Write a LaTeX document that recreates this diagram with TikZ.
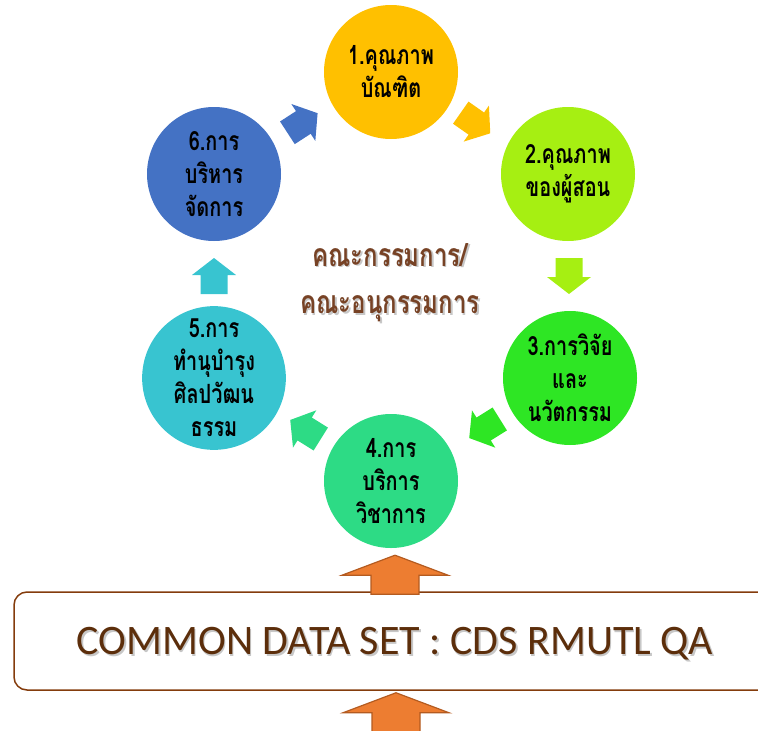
\documentclass[tikz,border=0pt]{standalone}
\usepackage{fontspec}
\setmainfont{Carlito}
\newfontfamily\thaifont[Script=Thai,FakeStretch=0.75]{Loma}
\usetikzlibrary{calc}
\definecolor{c1}{HTML}{FFC000}
\definecolor{c2}{HTML}{A6EF12}
\definecolor{c3}{HTML}{2EE624}
\definecolor{c4}{HTML}{2DDB85}
\definecolor{c5}{HTML}{38C4D0}
\definecolor{c6}{HTML}{4472C4}
\definecolor{orangefill}{HTML}{ED7D31}
\definecolor{orangeline}{HTML}{B45B20}
\definecolor{boxline}{HTML}{843C0C}
\definecolor{browntext}{HTML}{5C2E0B}
\definecolor{midtext}{HTML}{774225}
\tikzset{
  circ/.style={circle, minimum size=134pt, inner sep=0pt, align=center, text=black,
    font=\thaifont\bfseries\fontsize{26.5}{33}\selectfont},
  barrow/.pic={\fill[pic actions] (-18,-13.5) -- (1,-13.5) -- (1,-22) -- (18,0) -- (1,22) -- (1,13.5) -- (-18,13.5) -- cycle;},
  midlabel/.style={text=midtext, font=\thaifont\bfseries\fontsize{32}{34}\selectfont},
  shadowlabel/.style={text=black!22, font=\thaifont\bfseries\fontsize{32}{34}\selectfont},
  cdsbox/.style={draw=boxline, line width=1.5pt, rounded corners=13pt, minimum width=762pt, minimum height=98pt},
  uparrow/.style={fill=orangefill, draw=orangeline, line width=1.2pt, line join=miter}
}
\begin{document}
\begin{tikzpicture}[x=1pt,y=-1pt]
\useasboundingbox (0,0) rectangle (758,731);
% circles
\node[circ, fill=c1] (n1) at (391,72) {1.คุณภาพ\\บัณฑิต};
\node[circ, fill=c2] (n2) at (568,174) {2.คุณภาพ\\ของผู้สอน};
\node[circ, fill=c3] (n3) at (570,378) {3.การวิจัย\\และ\\นวัตกรรม};
\node[circ, fill=c4] (n4) at (391,481) {4.การ\\บริการ\\วิชาการ};
\node[circ, fill=c5] (n5) at (214,378) {5.การ\\ทำนุบำรุง\\ศิลปวัฒน\\ธรรม};
\node[circ, fill=c6] (n6) at (214,174) {6.การ\\บริหาร\\จัดการ};
% cycle arrows
\pic[fill=c6, rotate=33] at ($(n6)!0.5!(n1)$) {barrow};
\pic[fill=c1, rotate=-35] at ($(n1)!0.5!(n2)+(-4,0)$) {barrow};
\pic[fill=c2, rotate=-90] at ($(n2)!0.5!(n3)$) {barrow};
\pic[fill=c3, rotate=-148] at ($(n3)!0.5!(n4)+(4,-1)$) {barrow};
\pic[fill=c4, rotate=148] at ($(n4)!0.5!(n5)+(3,0)$) {barrow};
\pic[fill=c5, rotate=90] at ($(n5)!0.5!(n6)$) {barrow};
% centre labels
\node[shadowlabel] at (391.5,256.5) {คณะกรรมการ/};
\node[midlabel] (m1) at (390,255) {คณะกรรมการ/};
\node[shadowlabel] at (391.5,310.5) {คณะอนุกรรมการ};
\node[midlabel] (m2) at (390,309) {คณะอนุกรรมการ};
% data set box
\node[cdsbox] (box) at (395,641) {};
\node[text=black!22, font=\fontsize{42}{46}\selectfont] at (396.5,645.5) {COMMON DATA SET : CDS RMUTL QA};
\node[text=browntext, font=\fontsize{42}{46}\selectfont] (cds) at (395,644) {COMMON DATA SET : CDS RMUTL QA};
% orange arrows
\coordinate (t1) at ($(n4.south)+(4,7)$);
\draw[uparrow] (t1) -- ++(53,20) -- ++(-29,0) -- ++(0,19) -- ++(-48,0) -- ++(0,-19) -- ++(-29,0) -- cycle;
\coordinate (t2) at ($(box.south)+(1,2)$);
\draw[uparrow] (t2) -- ++(53,20) -- ++(-29,0) -- ++(0,30) -- ++(-48,0) -- ++(0,-30) -- ++(-29,0) -- cycle;
\end{tikzpicture}
\end{document}
